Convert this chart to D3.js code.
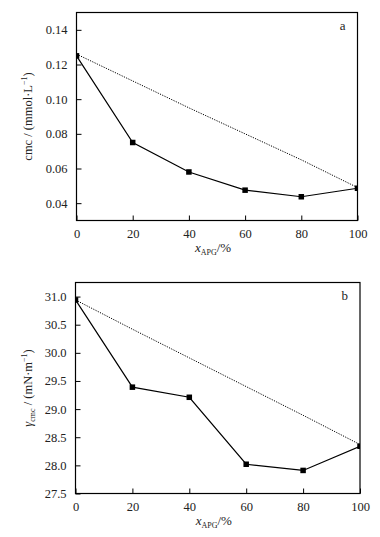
<!DOCTYPE html>
<html><head><meta charset="utf-8">
<script src="https://cdn.jsdelivr.net/npm/d3@7"></script>
<style>
body{margin:0;background:#fff;}
svg{display:block;font-family:"Liberation Serif","Times New Roman",serif;}
</style></head>
<body>
<svg id="c" width="380" height="537"></svg>
<script>
const xValues = [0, 20, 40, 60, 80, 100];
const xTicks = [0, 20, 40, 60, 80, 100];
const cmcMeasured = [0.125, 0.075, 0.058, 0.0475, 0.0437, 0.0486];
const cmcIdeal = [0.126, 0.1105, 0.095, 0.080, 0.065, 0.049];
const cmcTicks = [0.04, 0.06, 0.08, 0.10, 0.12, 0.14];
const gammaMeasured = [30.94, 29.39, 29.21, 28.02, 27.91, 28.34];
const gammaIdeal = [30.94, 30.42, 29.91, 29.40, 28.89, 28.37];
const gammaTicks = [27.5, 28.0, 28.5, 29.0, 29.5, 30.0, 30.5, 31.0];

const svg = d3.select("#c");

function panel(opt){
  const g = svg.append("g");
  const x = d3.scaleLinear().domain([0,100]).range([opt.left, opt.right]);
  const y = d3.scaleLinear().domain(opt.ydomain).range([opt.bottom, opt.top]);
  const id = "clip"+opt.name;
  svg.append("clipPath").attr("id", id).append("rect")
    .attr("x", opt.left).attr("y", opt.top)
    .attr("width", opt.right-opt.left).attr("height", opt.bottom-opt.top);

  // axes with inward ticks
  const xa = g.append("g").attr("transform",`translate(0,${opt.bottom})`)
    .call(d3.axisBottom(x).tickValues(xTicks).tickSize(-5).tickPadding(9).tickFormat(d3.format("d")));
  const ya = g.append("g").attr("transform",`translate(${opt.left},0)`)
    .call(d3.axisLeft(y).tickValues(opt.yticks).tickSize(-5).tickPadding(9).tickFormat(d3.format(opt.fmt)));
  [xa, ya].forEach(a=>{
    a.select(".domain").remove();
    a.selectAll("line").attr("stroke","#000").attr("stroke-width",1);
    a.selectAll("text").attr("font-family","Liberation Serif, serif").attr("font-size",12.5).attr("fill","#222");
  });
  // frame
  g.append("rect").attr("x",opt.left).attr("y",opt.top)
    .attr("width",opt.right-opt.left).attr("height",opt.bottom-opt.top)
    .attr("fill","none").attr("stroke","#000").attr("stroke-width",1.2);

  const pts = xValues.map((v,i)=>[v, opt.measured[i]]);
  const ideal = xValues.map((v,i)=>[v, opt.ideal[i]]);
  const line = d3.line().x(d=>x(d[0])).y(d=>y(d[1]));
  const plot = g.append("g").attr("clip-path",`url(#${id})`);
  plot.append("path").datum(ideal).attr("d",line).attr("fill","none")
    .attr("stroke","#000").attr("stroke-width",1).attr("stroke-dasharray","1.2,1.3");
  plot.append("path").datum(pts).attr("d",line).attr("fill","none")
    .attr("stroke","#000").attr("stroke-width",1.2);
  const s = 5.5;
  plot.selectAll("rect.m").data(pts).join("rect").attr("class","m")
    .attr("x",d=>x(d[0])-s/2).attr("y",d=>y(d[1])-s/2)
    .attr("width",s).attr("height",s).attr("fill","#000");

  // panel letter
  g.append("text").attr("x",opt.right-12).attr("y",opt.top+17)
    .attr("text-anchor","end").attr("font-size",13).attr("fill","#222").text(opt.name);

  // x title
  const xt = g.append("text").attr("x",(opt.left+opt.right)/2-4).attr("y",opt.bottom+31)
    .attr("text-anchor","middle").attr("font-size",13).attr("fill","#222");
  xt.append("tspan").attr("font-style","italic").text("x");
  xt.append("tspan").attr("font-size",8).attr("dy",3).text("APG");
  xt.append("tspan").attr("dy",-3).text("/%");

  // y title
  const yt = g.append("text")
    .attr("transform",`translate(32,${(opt.top+opt.bottom)/2}) rotate(-90)`)
    .attr("text-anchor","middle").attr("font-size",12.5).attr("fill","#222");
  opt.ytitle(yt);
}

panel({name:"a", left:76.5, right:357.5, top:12.5, bottom:220.5,
  ydomain:[0.03,0.15], yticks:cmcTicks, fmt:".2f",
  measured:cmcMeasured, ideal:cmcIdeal,
  ytitle: t=>{
    t.append("tspan").text("cmc / (mmol·L");
    t.append("tspan").attr("font-size",8).attr("dy",-5).text("−1");
    t.append("tspan").attr("dy",5).text(")");
  }});

panel({name:"b", left:75.5, right:360, top:282.5, bottom:493.5,
  ydomain:[27.5,31.25], yticks:gammaTicks, fmt:".1f",
  measured:gammaMeasured, ideal:gammaIdeal,
  ytitle: t=>{
    t.append("tspan").attr("font-style","italic").text("γ");
    t.append("tspan").attr("font-size",8).attr("dy",3).text("cmc");
    t.append("tspan").attr("dy",-3).text(" / (mN·m");
    t.append("tspan").attr("font-size",8).attr("dy",-5).text("−1");
    t.append("tspan").attr("dy",5).text(")");
  }});
</script>
</body></html>
